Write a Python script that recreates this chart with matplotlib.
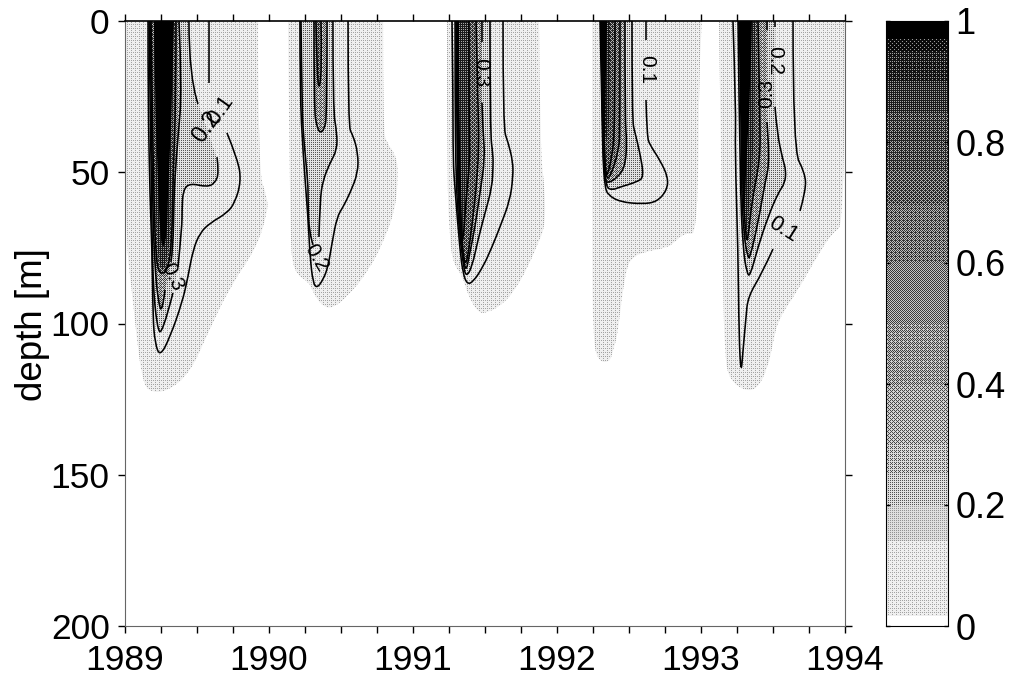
import numpy as np
import matplotlib
matplotlib.use('Agg')
import matplotlib.pyplot as plt
from matplotlib.path import Path
from matplotlib.patches import PathPatch

plt.rcParams['font.family'] = ['Liberation Sans', 'DejaVu Sans']

nan = float('nan')

# 轮廓数据: (year, depth)，nan 表示标注处的断线
b1_c00 = [(1989.924,0),(1989.924,49.3),(1989.986,58.2),(1989.993,62.5),(1989.917,74.7),(1989.729,87.9),(1989.576,103.1),
          (1989.451,116.4),(1989.292,122.6),(1989.160,122.6),(1989.118,117.7),(1989.083,105.5),(1989.049,89.9),(1989.0,70),(1989.0,0)]
b1_c10 = [(1989.583,0),(1989.583,20.5),(nan,nan),(1989.708,37),(1989.785,46),(1989.806,53),(1989.764,60),(1989.708,63.5),
          (1989.590,66.8),(1989.521,70),(1989.472,75.7),(1989.4375,84.6),(1989.396,93.2),(1989.3125,104.5),(1989.243,111),
          (1989.208,106.4),(1989.194,97.9),(1989.188,75.7),(1989.174,59.2),(1989.16,26),(1989.16,0)]
b1_c20 = [(1989.444,0),(1989.444,18.5),(1989.507,27.4),(nan,nan),(1989.639,45),(1989.653,50.2),(1989.625,53.6),(1989.569,54.9),
          (1989.451,53.6),(1989.403,55.9),(1989.396,62.5),(1989.396,68.1),(1989.368,81.3),(nan,nan),(1989.333,89.9),
          (1989.257,104),(1989.222,101.2),(1989.194,86.6),(1989.188,70),(1989.174,26),(1989.167,0)]
b1_c30 = [(1989.375,0),(1989.396,22.8),(1989.368,38.3),(1989.347,51.6),(1989.340,59.2),(1989.333,75.7),(1989.319,79.7),(nan,nan),
          (1989.278,88.9),(1989.257,97),(1989.229,92.2),(1989.208,81.3),(1989.194,64.8),(1989.181,26),(1989.174,0)]
b1_c50 = [(1989.354,0),(1989.354,26),(1989.333,52.6),(1989.326,72.4),(1989.299,82.3),(1989.243,84),(1989.215,79),(1989.201,59.2),
          (1989.188,26),(1989.181,0)]
b1_c70 = [(1989.340,0),(1989.333,26),(1989.319,52.6),(1989.3125,72.4),(1989.278,81.7),(1989.243,82.3),(1989.222,72.4),
          (1989.208,52.6),(1989.201,0)]
b1_c95 = [(1989.340,0),(1989.326,26),(1989.3125,42.6),(1989.299,55.9),(1989.292,70.7),(1989.264,75.7),(1989.243,70.7),
          (1989.229,52.6),(1989.208,26),(1989.201,0)]

b2_c00 = [(1990.792,0),(1990.792,36),(1990.819,40.3),(1990.889,45),(1990.896,52.6),(1990.875,62.5),(1990.792,73.4),(1990.681,83.3),
          (1990.542,91.2),(1990.444,94.9),(1990.375,94.5),(1990.306,89.9),(1990.285,86.6),(1990.167,83),(1990.146,70),(1990.132,0)]
b2_c10 = [(1990.549,0),(1990.549,35),(1990.583,37.7),(1990.618,43.6),(1990.618,50.2),(1990.5625,56.9),(1990.514,61.5),
          (1990.472,64.8),(1990.4375,73.4),(1990.410,81.3),(1990.375,85.6),(1990.333,88.3),(1990.306,86.6),(1990.285,78),
          (1990.271,64.8),(1990.236,43.6),(1990.215,23.8),(1990.215,0)]
b2_c20 = [(1990.444,0),(1990.444,29.4),(1990.472,37),(1990.472,42.6),(1990.424,46.9),(1990.375,52.6),(1990.354,59.2),(1990.347,71.4),
          (nan,nan),(1990.306,74),(1990.278,70),(1990.271,59.2),(1990.271,53.6),(1990.243,40.3),(1990.229,29.4),(1990.222,0)]
b2_c30 = [(1990.403,0),(1990.403,31.7),(1990.382,36),(1990.354,37),(1990.333,35),(1990.3125,29.4),(1990.3125,0)]
b2_c40 = [(1990.361,0),(1990.368,15.2),(1990.347,23.5),(1990.333,16.2),(1990.326,0)]

b3_c00 = [(1991.875,0),(1991.882,42.6),(1991.917,55.9),(1991.917,68.1),(1991.868,73.4),(1991.799,81.3),(1991.708,88.9),(1991.618,93.9),
          (1991.514,96.5),(1991.451,96.5),(1991.375,89.9),(1991.347,84.6),(1991.278,80),(1991.257,72.4),(1991.236,53.6),(1991.236,0)]
b3_c10 = [(1991.625,0),(1991.625,35.4),(1991.660,40),(1991.694,46.6),(1991.694,51.6),(1991.674,59.2),(1991.604,68.1),(1991.549,74.7),
          (1991.486,81.3),(1991.417,86.3),(1991.375,87),(1991.347,83.3),(1991.326,75.7),(1991.292,55.9),(1991.278,46),(1991.278,24.5),(1991.271,0)]
b3_c20 = [(1991.535,0),(1991.535,36.7),(1991.556,44.3),(1991.556,48.3),(1991.549,54.9),(1991.5,63.5),(1991.451,72.4),(1991.410,81.3),
          (1991.368,84.8),(1991.347,80),(1991.319,68.1),(1991.299,53.6),(1991.292,26),(1991.292,0)]
b3_c30 = [(1991.479,0),(1991.479,7),(nan,nan),(1991.479,27),(1991.486,36.7),(1991.5,45.3),(1991.465,56.9),(1991.431,68.1),(1991.389,78),
          (1991.368,83),(1991.347,78),(1991.326,64.8),(1991.306,51.6),(1991.299,0)]
b3_c50 = [(1991.438,0),(1991.451,26),(1991.458,42.6),(1991.438,55.9),(1991.410,67.4),(1991.382,77.7),(1991.361,81),(1991.340,74),
          (1991.319,52.6),(1991.312,26),(1991.312,0)]
b3_c70 = [(1991.389,0),(1991.389,36),(1991.396,46),(1991.368,59.2),(1991.347,74),(1991.333,70),(1991.312,42.6),(1991.312,0)]
b3_c95 = [(1991.319,0),(1991.319,26),(1991.333,52.6),(1991.340,72.4),(1991.326,75.7),(1991.306,52.6),(1991.299,26),(1991.299,0)]

b4_c00 = [(1993.007,0),(1992.986,12.9),(1992.979,70.7),(1992.889,70),(1992.819,73),(1992.764,75),(1992.597,76.4),(1992.521,78.3),
          (1992.486,81.3),(1992.458,88.9),(1992.4375,96.5),(1992.417,104.5),(1992.389,108.8),(1992.368,112.7),(1992.292,112.7),
          (1992.25,106.4),(1992.243,71.4),(1992.243,0)]
b4_c10 = [(1992.618,0),(1992.618,6.3),(nan,nan),(1992.618,26.1),(1992.625,38.3),(1992.646,41),(1992.715,46),(1992.771,51.6),(1992.764,55.9),
          (1992.694,59.8),(1992.590,60.5),(1992.4375,59.8),(1992.354,57.5),(1992.333,54.9),(1992.319,46),(1992.3125,29.4),(1992.299,0)]
b4_c20 = [(1992.521,0),(1992.521,32.7),(1992.542,37),(1992.576,43.6),(1992.604,51.6),(1992.556,53.2),(1992.4375,54.9),(1992.382,55.9),
          (1992.340,54.9),(1992.326,46),(1992.3125,29.4),(1992.306,0)]
b4_c30 = [(1992.472,0),(1992.472,32.7),(1992.486,40.3),(1992.472,48.3),(1992.417,51.9),(1992.354,53.6),(1992.333,52.6),(1992.319,42.6),(1992.306,0)]
b4_c40 = [(1992.4375,0),(1992.4375,35),(1992.431,42.6),(1992.368,51.9),(1992.340,51.9),(1992.326,42.6),(1992.3125,0)]
b4_c50 = [(1992.403,0),(1992.403,35),(1992.382,45),(1992.347,51.6),(1992.333,49.3),(1992.319,26),(1992.312,0)]
b4_c70 = [(1992.368,0),(1992.368,26),(1992.354,39.3),(1992.326,39.3),(1992.3125,0)]
b4_c95 = [(1992.347,0),(1992.340,16.2),(1992.333,36),(1992.326,49),(1992.3125,29.4),(1992.299,0)]

b5_c00 = [(1994.0,0),(1994.0,67.4),(1993.910,70),(1993.792,79),(1993.674,88.9),(1993.535,98.8),(1993.5,106.4),(1993.465,114.4),
          (1993.389,122),(1993.285,122),(1993.188,117.7),(1993.167,109.8),(1993.153,92.2),(1993.125,0)]
b5_c10 = [(1993.639,0),(1993.639,42.6),(1993.722,50.2),(1993.729,55.9),(1993.6875,62.8),(nan,nan),(1993.5,75.4),(1993.424,83.3),
          (1993.326,91.2),(1993.3125,97.9),(1993.292,108.8),(1993.278,117),(1993.264,104.5),(1993.257,75.7),(1993.236,42.6),
          (1993.243,29.4),(1993.222,0)]
b5_c20 = [(1993.514,0),(1993.514,2),(nan,nan),(1993.514,28.4),(1993.528,37),(1993.569,46),(1993.590,49.3),(1993.583,53.6),(1993.535,56.9),
          (1993.465,64.8),(1993.396,74.7),(1993.340,84.5),(1993.319,83.3),(1993.292,75.7),(1993.271,53.6),(1993.257,0)]
b5_c30 = [(1993.458,0),(1993.458,3),(nan,nan),(1993.458,33.4),(1993.479,46),(1993.444,53.6),(1993.396,66.8),(1993.340,78.3),
          (1993.326,78.3),(1993.299,71.4),(1993.278,53.6),(1993.271,0)]
b5_c50 = [(1993.396,0),(1993.410,32.7),(1993.410,46),(1993.354,59.2),(1993.326,72.4),(1993.3125,72.4),(1993.285,52.6),(1993.278,0)]
b5_c70 = [(1993.375,0),(1993.375,32.7),(1993.354,49),(1993.326,65.8),(1993.3125,70.7),(1993.299,59.2),(1993.271,0)]
b5_c95 = [(1993.354,0),(1993.340,26),(1993.319,42.6),(1993.306,59.2),(1993.299,65.8),(1993.285,52.6),(1993.278,26),(1993.257,0)]

# (轮廓, 灰度, 是否画线)
layers = [
    (b1_c00, 0.91, False), (b2_c00, 0.91, False), (b3_c00, 0.91, False), (b4_c00, 0.91, False), (b5_c00, 0.91, False),
    (b1_c10, 0.91, True), (b1_c20, 0.74, True), (b1_c30, 0.58, True), (b1_c50, 0.40, True), (b1_c70, 0.22, False), (b1_c95, 0.0, False),
    (b2_c10, 0.91, True), (b2_c20, 0.74, True), (b2_c30, 0.58, True), (b2_c40, 0.42, True),
    (b3_c10, 0.91, True), (b3_c20, 0.74, True), (b3_c30, 0.58, True), (b3_c50, 0.40, True), (b3_c70, 0.25, True), (b3_c95, 0.0, False),
    (b4_c10, 0.91, True), (b4_c20, 0.74, True), (b4_c30, 0.58, True), (b4_c40, 0.45, True), (b4_c50, 0.35, True), (b4_c70, 0.2, False), (b4_c95, 0.0, False),
    (b5_c10, 0.91, True), (b5_c20, 0.74, True), (b5_c30, 0.58, True), (b5_c50, 0.40, True), (b5_c70, 0.22, False), (b5_c95, 0.0, False),
]

# 等值线标注: (year, depth, text, rotation, size)
labels = [
    (1989.569, 35, '0.2', 55, 17), (1989.66, 29.4, '0.1', 55, 16), (1989.326, 84.6, '0.3', -65, 15),
    (1990.326, 78.3, '0.2', -60, 15),
    (1991.472, 17, '0.3', -90, 15),
    (1992.62, 16, '0.1', -90, 15),
    (1993.514, 13, '0.2', -90, 15), (1993.458, 24, '0.3', 90, 15),
    (1993.57, 69, '0.1', -32, 16),
]

x_major = [1989, 1990, 1991, 1992, 1993, 1994]
x_minor = np.arange(1989, 1994.01, 0.25)
y_ticks = [0, 50, 100, 150, 200]
bar_ticks = [0, 0.2, 0.4, 0.6, 0.8, 1]
bar_labels = ['0', '0.2', '0.4', '0.6', '0.8', '1']
bar_edges = [0, 0.016, 0.14, 0.2, 0.25, 0.3, 0.35, 0.4, 0.45, 0.5, 0.55, 0.6, 0.65, 0.7, 0.75, 0.8, 0.85, 0.9, 0.95, 0.97, 1]
bar_grays = [1, 0.91, 0.82, 0.72, 0.68, 0.64, 0.60, 0.57, 0.54, 0.52, 0.50, 0.46, 0.42, 0.36, 0.33, 0.30, 0.24, 0.17, 0.10, 0.0]

# 有序抖动，模拟原图的点阵灰度
bayer = np.array([[0, 8, 2, 10], [12, 4, 14, 6], [3, 11, 1, 9], [15, 7, 13, 5]]) / 16 + 1 / 32


def texture(gray, h, w):
    if gray >= 1:
        return np.ones((h, w))
    yy, xx = np.mgrid[0:h, 0:w]
    if gray > 0.8:
        # 浅色档: 点更密但对比更低
        on = (gray - 0.1 > bayer[yy % 4, xx % 4]).astype(float)
        return 0.3 * on + 0.7 * gray
    on = (gray > bayer[yy % 4, xx % 4]).astype(float)
    return 0.55 * on + 0.45 * gray


def curve_codes(run):
    # 以读到的点为控制点画二次曲线，首尾保持直线
    verts = [run[0]]
    codes = [Path.MOVETO]
    for i in range(1, len(run) - 1):
        mid = (run[i] + run[i + 1]) / 2
        end = run[-1] if i == len(run) - 2 else mid
        verts += [run[i], end]
        codes += [Path.CURVE3, Path.CURVE3]
    if len(run) == 2:
        verts.append(run[1])
        codes.append(Path.LINETO)
    return np.array(verts), codes


fig = plt.figure(figsize=(10.13, 6.81), dpi=100)
ax = fig.add_axes([125 / 1013, 55 / 681, 720 / 1013, 605 / 681])
ax.set_xlim(1989, 1994)
ax.set_ylim(200, 0)

for pts, gray, has_line in layers:
    arr = np.array(pts, dtype=float)
    solid = arr[~np.isnan(arr[:, 0])]
    verts, codes = curve_codes(solid)
    outline = PathPatch(Path(np.vstack([verts, verts[0]]), codes + [Path.LINETO]), transform=ax.transData)
    im = ax.imshow(texture(gray, 605, 720), extent=[1989, 1994, 200, 0], aspect='auto', cmap='gray',
                   vmin=0, vmax=1, interpolation='nearest', zorder=1)
    im.set_clip_path(outline)
    if has_line:
        breaks = np.where(np.isnan(arr[:, 0]))[0]
        for run in np.split(arr, breaks):
            run = run[~np.isnan(run[:, 0])]
            v, c = curve_codes(run)
            ax.add_patch(PathPatch(Path(v, c), facecolor='none', edgecolor='k', lw=1.15, zorder=2))

for t, d, s, rot, size in labels:
    ax.text(t, d, s, fontsize=size, rotation=rot, ha='center', va='center', zorder=3)

ax.set_xlim(1989, 1994)
ax.set_ylim(200, 0)
ax.set_xticks(x_major)
ax.set_xticks(x_minor, minor=True)
ax.set_yticks(y_ticks)
ax.tick_params(axis='both', which='both', direction='out', length=5, width=1, top=True, right=True, labelsize=25.5, pad=6)
ax.tick_params(axis='x', which='major', pad=8)
for side in ['left', 'bottom', 'right']:
    ax.spines[side].set_color('#666666')
ax.spines['top'].set_linewidth(1.2)
ax.set_ylabel('depth [m]', fontsize=26.5)
ax.yaxis.set_label_coords(-0.104, 0.4975)

# 色标
cax = fig.add_axes([886 / 1013, 55 / 681, 62 / 1013, 605 / 681])
bar = np.ones((605, 62))
for i, gray in enumerate(bar_grays):
    top = int(round((1 - bar_edges[i + 1]) * 605))
    bot = int(round((1 - bar_edges[i]) * 605))
    bar[top:bot] = texture(gray, 605, 62)[top:bot]
cax.imshow(bar, extent=[0, 1, 0, 1], aspect='auto', cmap='gray', vmin=0, vmax=1, interpolation='nearest')
cax.set_xticks([])
cax.set_yticks(bar_ticks, bar_labels)
cax.yaxis.tick_right()
cax.tick_params(axis='y', direction='in', length=3, width=1, left=True, right=True, labelsize=26, pad=5.5)

fig.savefig('out.png', dpi=100)
